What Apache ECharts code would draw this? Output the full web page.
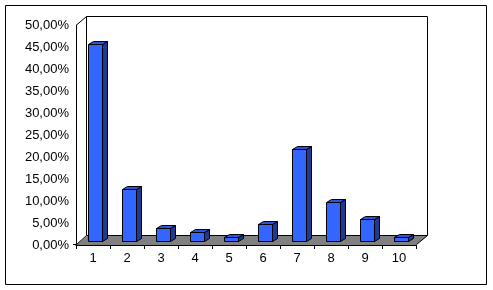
<!DOCTYPE html>
<html>
<head>
<meta charset="utf-8">
<script src="https://cdn.jsdelivr.net/npm/echarts@6/dist/echarts.min.js"></script>
<style>html,body{margin:0;padding:0;background:#fff;}#c{width:493px;height:290px;}</style>
</head>
<body>
<div id="c"></div>
<script>
const categories = ['1','2','3','4','5','6','7','8','9','10'];
const values = [0.448, 0.118, 0.030, 0.020, 0.009, 0.039, 0.210, 0.089, 0.050, 0.009];
const yTicks = {min: 0, max: 0.5, interval: 0.05};

const chart = echarts.init(document.getElementById('c'));
const FONT = 'Liberation Sans, Arial, sans-serif';

function fmt(v){ return (v*100).toFixed(2).replace('.', ',') + '%'; }

chart.setOption({
  animation: false,
  backgroundColor: '#fff',
  grid: {left: 76, right: 77, top: 25, bottom: 45},
  graphic: [
    {type:'rect', z:-10, shape:{x:5.5,y:5.5,width:481,height:279}, style:{fill:'#fff',stroke:'#000',lineWidth:1}},
    {type:'rect', z:-9, shape:{x:86.5,y:16.5,width:341,height:219}, style:{fill:'#fff',stroke:'#000',lineWidth:1}},
    {type:'polyline', z:-9, shape:{points:[[76.5,25],[86.5,16.5]]}, style:{stroke:'#000',lineWidth:1,fill:null}},
    {type:'polygon', z:-8, shape:{points:[[76,245],[416,245],[427,236],[87,236]]}, style:{fill:'#808080'}},
    {type:'polyline', z:-7, shape:{points:[[76.5,244.5],[86.5,235.5]]}, style:{stroke:'#000',lineWidth:1,fill:null}},
    {type:'polyline', z:-7, shape:{points:[[416.5,244.5],[427.5,235.5]]}, style:{stroke:'#000',lineWidth:1,fill:null}},
    {type:'polyline', z:-7, shape:{points:[[73,244.5],[76,244.5]]}, style:{stroke:'#000',lineWidth:1,fill:null}}
  ],
  xAxis: {
    type: 'category', data: categories, boundaryGap: true,
    axisLine: {lineStyle: {color: '#000', width: 1}},
    axisTick: {show: true, length: 4, lineStyle: {color: '#000'}},
    axisLabel: {color: '#000', fontSize: 13, fontFamily: FONT, margin: 7},
    splitLine: {show: false}
  },
  yAxis: {
    type: 'value', min: yTicks.min, max: yTicks.max, interval: yTicks.interval,
    axisLine: {show: true, lineStyle: {color: '#000', width: 1}},
    axisTick: {show: false},
    splitLine: {show: false},
    axisLabel: {color: '#000', fontSize: 13, fontFamily: FONT, margin: 7, formatter: fmt}
  },
  series: [{
    type: 'custom',
    clip: false,
    data: values.map((v, i) => [i, v]),
    encode: {x: 0, y: 1},
    renderItem: function(params, api){
      const i = api.value(0), v = api.value(1);
      const base = api.coord([i, 0]);
      const top = api.coord([i, v]);
      const cw = api.size([1, 0])[0];
      const fx0 = Math.round(base[0] - cw*0.14) + 0.5;
      const fx1 = Math.round(base[0] + cw*0.27) + 0.5;
      const yb = Math.round(base[1] - 4) + 0.5;
      const yt = Math.round(top[1] - 4) + 0.5;
      const dx = 5, dy = -3;
      const st = {stroke: '#000', lineWidth: 1};
      return {
        type: 'group',
        children: [
          {type: 'polygon', shape: {points: [[fx1,yb],[fx1,yt],[fx1+dx,yt+dy],[fx1+dx,yb+dy]]}, style: Object.assign({fill: '#1F3A93'}, st)},
          {type: 'polygon', shape: {points: [[fx0,yt],[fx1,yt],[fx1+dx,yt+dy],[fx0+dx,yt+dy]]}, style: Object.assign({fill: '#2A55E0'}, st)},
          {type: 'rect', shape: {x: fx0, y: yt, width: fx1-fx0, height: yb-yt}, style: Object.assign({fill: '#3366FF'}, st)}
        ]
      };
    }
  }]
});
</script>
</body>
</html>
